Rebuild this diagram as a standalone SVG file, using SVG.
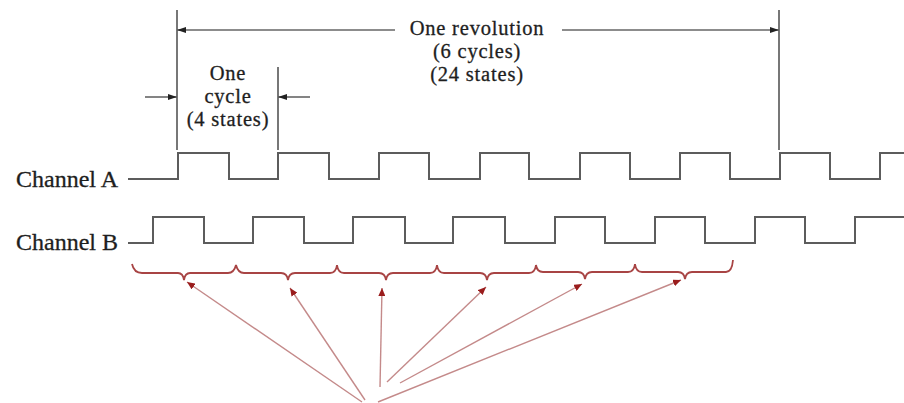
<svg xmlns="http://www.w3.org/2000/svg" width="904" height="403" viewBox="0 0 904 403">
<style>
text{font-family:"Liberation Serif","Times New Roman",serif;fill:#1e1e1e;stroke:#1e1e1e;stroke-width:0.3}
.lbl{font-size:20.5px;letter-spacing:0.8px;text-anchor:middle}
.ch{font-size:24px;text-anchor:end}
.wave{fill:none;stroke:#5c5c5c;stroke-width:2}
.dim{fill:none;stroke:#666;stroke-width:1.6}
.ext{fill:none;stroke:#777;stroke-width:2}
.brace{fill:none;stroke:#a84444;stroke-width:1.8}
.ptr{fill:none;stroke:#c48a8a;stroke-width:1.4}
</style>
<defs>
<marker id="ah" markerUnits="userSpaceOnUse" markerWidth="9" markerHeight="6" refX="9" refY="3" orient="auto">
<path d="M0,0 L9,3 L0,6 z" fill="#222"/>
</marker>
<marker id="rh" markerUnits="userSpaceOnUse" markerWidth="8" markerHeight="7" refX="8" refY="3.5" orient="auto">
<path d="M0,0 L8,3.5 L0,7 z" fill="#9a1c1c"/>
</marker>
</defs>
<rect width="904" height="403" fill="#fff"/>

<g id="revolution-label">
<text class="lbl" x="477" y="35">One revolution</text>
<text class="lbl" x="477" y="58">(6 cycles)</text>
<text class="lbl" x="477" y="81">(24 states)</text>
</g>

<g id="cycle-label">
<text class="lbl" x="228" y="80">One</text>
<text class="lbl" x="228" y="103">cycle</text>
<text class="lbl" x="228" y="126">(4 states)</text>
</g>

<g id="channel-a">
<text class="ch" x="118" y="187">Channel A</text>
<path class="wave" d="M128,179 H178 V153 H229 V179 H278 V153 H329 V179 H379 V153 H429 V179 H480 V153 H529 V179 H580 V153 H630 V179 H680 V153 H730 V179 H780 V153 H830 V179 H880 V153 H904"/>
</g>

<g id="channel-b">
<text class="ch" x="118" y="250">Channel B</text>
<path class="wave" d="M128,243 H153 V217 H204 V243 H253 V217 H304 V243 H353 V217 H405 V243 H453 V217 H505 V243 H555 V217 H605 V243 H655 V217 H705 V243 H755 V217 H805 V243 H855 V217 H904"/>
</g>

<g id="state-braces">
<path class="brace" d="M132,264 Q134,273 142,273 H178 Q183,273 184,280 Q185,273 190,273 H228 Q234,273 236,265 Q238,273 244,273 H281 Q287,273 288,280 Q289,273 295,273 H330 Q336,273 337,265 Q338,273 344,273 H379 Q385,273 386,280 Q387,273 393,273 H430 Q436,273 437,265 Q438,273 444,273 H480 Q486,273 487,280 Q488,273 494,273 H529 Q535,273 536,265 Q537,272 543,272 H578 Q584,272 585,279 Q586,272 592,272 H628 Q634,272 635,264 Q636,272 642,272 H678 Q684,272 685,279 Q686,272 692,272 H726 Q732,272 733,260"/>
</g>

<g id="connectors">
<line class="ext" x1="177" y1="10" x2="177" y2="150"/>
<line class="ext" x1="278" y1="67" x2="278" y2="150"/>
<line class="ext" x1="779" y1="10" x2="779" y2="150"/>
<line class="dim" x1="395" y1="30" x2="177" y2="30" marker-end="url(#ah)"/>
<line class="dim" x1="562" y1="30" x2="779" y2="30" marker-end="url(#ah)"/>
<line class="dim" x1="145" y1="97" x2="177" y2="97" marker-end="url(#ah)"/>
<line class="dim" x1="310" y1="97" x2="278" y2="97" marker-end="url(#ah)"/>
<line class="ptr" x1="362" y1="402" x2="187" y2="282" marker-end="url(#rh)"/>
<line class="ptr" x1="365" y1="400" x2="290" y2="288" marker-end="url(#rh)"/>
<line class="ptr" x1="380" y1="387" x2="382" y2="288" marker-end="url(#rh)"/>
<line class="ptr" x1="387" y1="382" x2="486" y2="287" marker-end="url(#rh)"/>
<line class="ptr" x1="400" y1="383" x2="582" y2="284" marker-end="url(#rh)"/>
<line class="ptr" x1="378" y1="402" x2="681" y2="280" marker-end="url(#rh)"/>
</g>
</svg>
